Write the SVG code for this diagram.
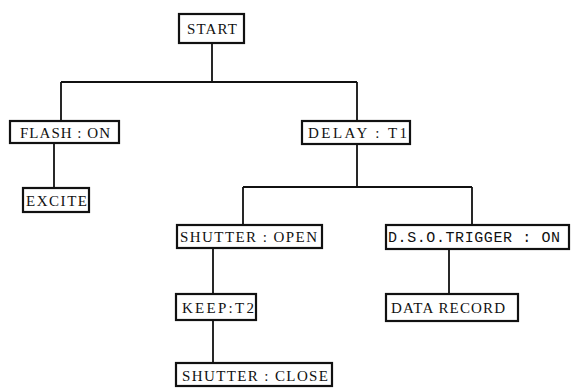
<svg xmlns="http://www.w3.org/2000/svg" width="571" height="388" viewBox="0 0 571 388">
<style>
.box{fill:#fff;stroke:#111;stroke-width:2.2}
.t{font-family:"Liberation Serif","DejaVu Serif",serif;font-size:15px;fill:#111}
.m{font-family:"Liberation Mono","DejaVu Sans Mono",monospace;font-size:15px;fill:#111}
.c{fill:none;stroke:#111;stroke-width:1.8}
</style>
<rect width="571" height="388" fill="#fff"/>
<g id="connectors">
<path class="c" d="M212 43V82M61 82H357M61 82V121M357 82V121"/>
<path class="c" d="M54 143V188"/>
<path class="c" d="M357 143V187M243 187H472M243 187V225M472 187V225"/>
<path class="c" d="M213 248V294M213 320V363"/>
<path class="c" d="M449 250V294"/>
</g>
<g id="start"><rect class="box" x="179" y="14" width="65" height="29"/><text class="t" x="187" y="34" textLength="50" lengthAdjust="spacing">START</text></g>
<g id="flash"><rect class="box" x="10" y="121" width="109" height="22"/><text class="t" x="20" y="137.5" textLength="90" lengthAdjust="spacing">FLASH : ON</text></g>
<g id="excite"><rect class="box" x="23" y="188" width="66" height="24"/><text class="t" x="26" y="206" textLength="61" lengthAdjust="spacing">EXCITE</text></g>
<g id="delay"><rect class="box" x="302" y="121" width="108" height="23"/><text class="t" x="308" y="138" textLength="99" lengthAdjust="spacing">DELAY : T1</text></g>
<g id="shutter-open"><rect class="box" x="177" y="225" width="145" height="23"/><text class="t" x="180" y="242" textLength="137" lengthAdjust="spacing">SHUTTER : OPEN</text></g>
<g id="dso"><rect class="box" x="386" y="225" width="183" height="24"/><text class="m" x="388" y="242" textLength="172" lengthAdjust="spacing">D.S.O.TRIGGER : ON</text></g>
<g id="keep"><rect class="box" x="176" y="294" width="80" height="26"/><text class="t" x="182" y="312.5" textLength="72" lengthAdjust="spacing">KEEP:T2</text></g>
<g id="data-record"><rect class="box" x="386" y="294" width="132" height="27"/><text class="t" x="391" y="313" textLength="114" lengthAdjust="spacing">DATA RECORD</text></g>
<g id="shutter-close"><rect class="box" x="176" y="363" width="156" height="23"/><text class="t" x="182" y="380.5" textLength="146" lengthAdjust="spacing">SHUTTER : CLOSE</text></g>
</svg>
